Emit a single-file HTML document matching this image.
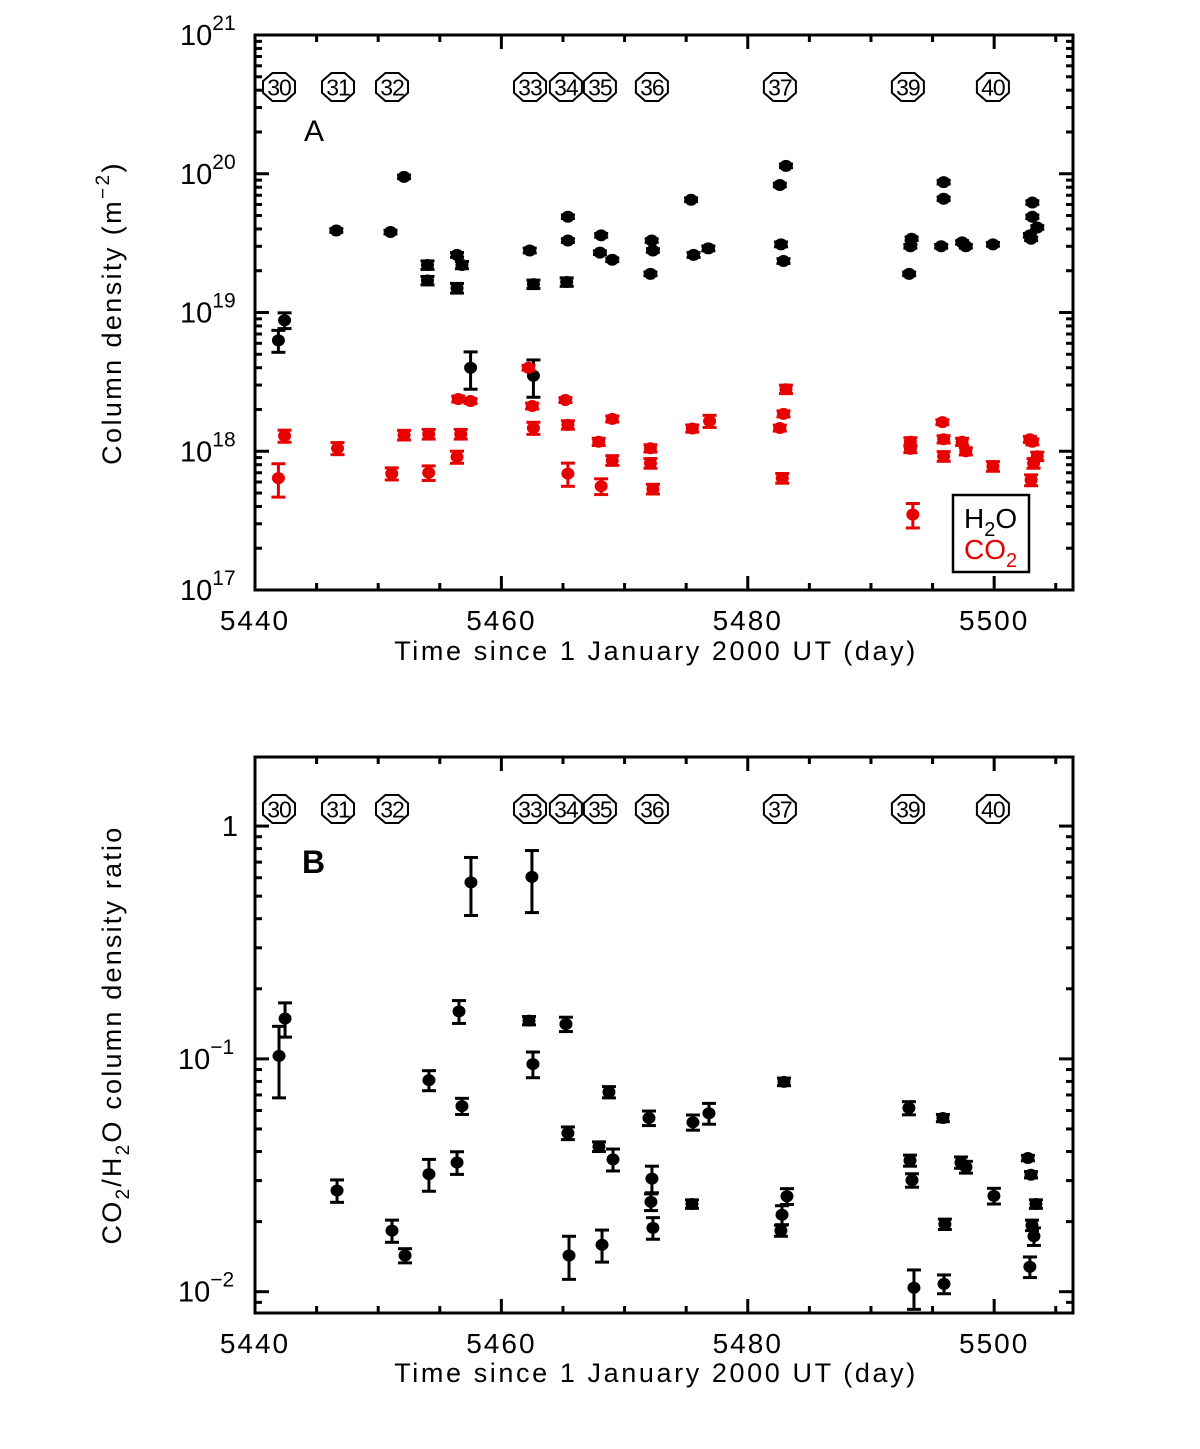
<!DOCTYPE html>
<html><head><meta charset="utf-8"><style>
html,body{margin:0;padding:0;background:#fff;}
svg{display:block;font-family:"Liberation Sans",sans-serif;}
</style></head><body>
<svg id="fig" width="1200" height="1449" viewBox="0 0 1200 1449">
<g id="panelA"></g>
<g id="panelB"></g>
</svg>
<script>
// ---- shared data ----
const apparitionLabels = ["30","31","32","33","34","35","36","37","39","40"];
const apparitionDays = [5441.95,5446.74,5451.12,5462.32,5465.24,5468.0,5472.22,5482.61,5493.0,5499.9];
const xTicks = [5440,5460,5480,5500];

// ---- panel A data ----
const h2oDays = [5441.9,5442.4,5446.6,5451.0,5452.1,5454.0,5454.0,5456.4,5456.8,5456.4,5457.5,5462.3,5462.6,5462.6,5465.4,5465.4,5465.3,5468.1,5468.0,5469.0,5472.2,5472.3,5472.1,5475.4,5475.6,5476.8,5482.6,5483.1,5482.7,5482.9,5493.1,5493.2,5493.3,5495.7,5495.9,5495.9,5497.4,5497.7,5499.9,5502.9,5503.0,5503.1,5503.1,5503.5];
const h2oVals = [6.3e18,8.8e18,3.9e19,3.8e19,9.5e19,2.2e19,1.7e19,2.6e19,2.2e19,1.5e19,4.0e18,2.8e19,1.6e19,3.5e18,4.9e19,3.3e19,1.66e19,3.6e19,2.7e19,2.4e19,3.3e19,2.8e19,1.9e19,6.5e19,2.6e19,2.9e19,8.3e19,1.14e20,3.1e19,2.35e19,1.9e19,3.0e19,3.4e19,3.0e19,6.6e19,8.7e19,3.2e19,3.0e19,3.1e19,3.6e19,3.4e19,4.9e19,6.2e19,4.1e19];
const h2oRelErr = [0.18,0.13,0.03,0.03,0.03,0.07,0.07,0.04,0.06,0.08,0.3,0.04,0.07,0.3,0.03,0.03,0.07,0.03,0.03,0.03,0.03,0.03,0.03,0.03,0.04,0.04,0.03,0.03,0.04,0.04,0.03,0.03,0.03,0.03,0.03,0.03,0.03,0.03,0.03,0.03,0.03,0.03,0.03,0.03];
const co2Days = [5441.9,5442.4,5446.7,5451.1,5452.1,5454.1,5454.1,5456.4,5456.5,5457.5,5456.7,5462.2,5462.5,5462.6,5465.2,5465.4,5465.4,5467.9,5469.0,5469.0,5468.1,5472.1,5472.1,5472.3,5475.5,5476.9,5482.6,5482.9,5483.1,5482.8,5493.2,5493.2,5493.4,5495.8,5495.9,5495.9,5497.4,5497.7,5499.9,5502.9,5503.1,5503.0,5503.2,5503.5];
const co2Vals = [6.4e17,1.29e18,1.05e18,6.9e17,1.31e18,7.0e17,1.33e18,9.1e17,2.38e18,2.3e18,1.33e18,4.0e18,2.12e18,1.47e18,2.34e18,1.55e18,6.9e17,1.17e18,1.71e18,8.6e17,5.6e17,1.05e18,8.2e17,5.35e17,1.46e18,1.65e18,1.47e18,1.86e18,2.8e18,6.4e17,1.17e18,1.04e18,3.5e17,1.62e18,1.22e18,9.2e17,1.17e18,1.0e18,7.8e17,1.22e18,1.17e18,6.2e17,8.2e17,9.2e17];
const co2RelErr = [0.27,0.1,0.1,0.1,0.08,0.12,0.08,0.1,0.05,0.04,0.08,0.04,0.05,0.1,0.04,0.07,0.19,0.06,0.05,0.08,0.13,0.06,0.08,0.08,0.06,0.1,0.05,0.05,0.07,0.08,0.07,0.06,0.2,0.04,0.06,0.08,0.06,0.06,0.08,0.05,0.05,0.09,0.08,0.07];

// ---- panel B data ----
const ratioDays = [5441.95,5442.44,5446.66,5451.12,5452.18,5454.12,5454.12,5456.56,5456.8,5456.4,5457.53,5462.48,5462.24,5462.56,5465.24,5465.4,5465.49,5467.92,5468.73,5469.06,5468.17,5471.98,5472.22,5472.14,5472.3,5475.55,5476.85,5475.47,5482.94,5483.18,5482.78,5482.69,5493.08,5493.17,5493.33,5493.49,5495.84,5496.0,5495.93,5497.31,5497.71,5499.98,5502.74,5502.99,5503.39,5503.07,5503.23,5502.9];
const ratioVals = [0.103,0.149,0.0272,0.0183,0.0143,0.081,0.032,0.160,0.0627,0.0359,0.573,0.605,0.146,0.095,0.141,0.048,0.0143,0.042,0.072,0.037,0.0159,0.0557,0.0306,0.0243,0.0188,0.0534,0.0584,0.0238,0.0797,0.0257,0.0214,0.0183,0.0615,0.0366,0.0301,0.0104,0.0557,0.0195,0.0108,0.0359,0.0343,0.0258,0.0375,0.0318,0.0238,0.0193,0.0173,0.0128];
const ratioErr = [0.035,0.025,0.003,0.002,0.001,0.008,0.005,0.018,0.005,0.004,0.16,0.18,0.006,0.012,0.01,0.003,0.003,0.002,0.004,0.004,0.0025,0.004,0.004,0.002,0.002,0.004,0.006,0.001,0.003,0.002,0.002,0.001,0.004,0.002,0.002,0.002,0.002,0.001,0.001,0.002,0.002,0.002,0.001,0.001,0.001,0.001,0.0015,0.0013];

const NS="http://www.w3.org/2000/svg";
function mk(parent,tag,attrs,txt){const e=document.createElementNS(NS,tag);for(const k in attrs)e.setAttribute(k,attrs[k]);if(txt!==undefined)e.textContent=txt;parent.appendChild(e);return e;}

const L=255,R=1073,X0=5440,X1=5506.4;
function xS(d){return L+(d-X0)/(X1-X0)*(R-L);}

function frame(g,top,bot,yS,logMin,logMax,decLabels){
  mk(g,'rect',{x:L,y:top,width:R-L,height:bot-top,fill:'none',stroke:'#000','stroke-width':3});
  for(let d=5440;d<=5505;d+=5){
    const x=xS(d);const len=(d%20===0)?14:7;
    const t1=mk(g,'line',{x1:x,y1:bot,x2:x,y2:bot-len,stroke:'#000','stroke-width':3});
    
    mk(g,'line',{x1:x,y1:top,x2:x,y2:top+len,stroke:'#000','stroke-width':3});
  }
  xTicks.forEach(v=>{
    const t=mk(g,'text',{x:xS(v),y:bot+40,'text-anchor':'middle','font-size':28,'letter-spacing':2},String(v));
    
    
  });
  for(let e=Math.floor(logMin);e<=Math.ceil(logMax);e++){
    for(let m=1;m<10;m++){
      const lv=e+Math.log10(m);if(lv<logMin-1e-9||lv>logMax+1e-9)continue;
      const y=yS(Math.pow(10,lv));const len=m===1?14:7;
      const t=mk(g,'line',{x1:L,y1:y,x2:L+len,y2:y,stroke:'#000','stroke-width':3});
      
      mk(g,'line',{x1:R,y1:y,x2:R-len,y2:y,stroke:'#000','stroke-width':3});
    }
  }
  decLabels.forEach(dl=>{
    const y=yS(Math.pow(10,dl.e));
    const t=mk(g,'text',{x:dl.x,y:y+10,'font-size':29});
    
    
    if(dl.plain){t.textContent=dl.plain;t.setAttribute('text-anchor','end');t.setAttribute('x',238);}
    else{t.textContent='10';mk(t,'tspan',{dy:-15,'font-size':21},dl.sup);}
  });
}
function circles(g,y){
  apparitionLabels.forEach((lab,i)=>{
    const x=xS(apparitionDays[i]);
    const c=mk(g,'g',{});
    
    
    const r=16.5,pts=[];for(let k=0;k<8;k++){const a=Math.PI/8+k*Math.PI/4;pts.push((x+r*1.05*Math.cos(a)).toFixed(1)+','+(y+r*0.92*Math.sin(a)).toFixed(1));}
    mk(c,'polygon',{points:pts.join(' '),fill:'#fff',stroke:'#000','stroke-width':2});
    mk(c,'text',{x:x,y:y+8.5,'text-anchor':'middle','font-size':23,'letter-spacing':-1},lab);
  });
}
function point(g,x,y,yl,yh,col,name){
  const p=mk(g,'g',{});
  
  
  mk(p,'line',{x1:x,y1:yl,x2:x,y2:yh,stroke:col,'stroke-width':3});
  mk(p,'line',{x1:x-7,y1:yl,x2:x+7,y2:yl,stroke:col,'stroke-width':3});
  mk(p,'line',{x1:x-7,y1:yh,x2:x+7,y2:yh,stroke:col,'stroke-width':3});
  mk(p,'ellipse',{cx:x,cy:y,rx:6.5,ry:6,fill:col});
}

// ---- Panel A ----
(function(){
  const g=document.getElementById('panelA');
  const top=35,bot=590,lmin=17,lmax=21;
  const yS=v=>bot-(Math.log10(v)-lmin)/(lmax-lmin)*(bot-top);
  frame(g,top,bot,yS,lmin,lmax,[{e:21,x:180,sup:'21'},{e:20,x:180,sup:'20'},{e:19,x:180,sup:'19'},{e:18,x:180,sup:'18'},{e:17,x:180,sup:'17'}]);
  circles(g,87);
  const a=mk(g,'text',{x:304,y:141,'font-size':30},'A');
  
  const xt=mk(g,'text',{x:656,y:660,'text-anchor':'middle','font-size':27,'letter-spacing':2.6},'Time since 1 January 2000 UT (day)');
  
  const yt=mk(g,'text',{x:0,y:0,'text-anchor':'middle','font-size':27,'letter-spacing':2.4,transform:'translate(121,313) rotate(-90)'},'Column density (m');
  mk(yt,'tspan',{dy:-12,'font-size':19},'−2');mk(yt,'tspan',{dy:12},')');
  
  h2oDays.forEach((d,i)=>{const v=h2oVals[i],e=v*h2oRelErr[i];point(g,xS(d),yS(v),yS(v-e),yS(v+e),'#000','h2o-point');});
  co2Days.forEach((d,i)=>{const v=co2Vals[i],e=v*co2RelErr[i];point(g,xS(d),yS(v),yS(v-e),yS(v+e),'#e60000','co2-point');});
  const lg=mk(g,'g',{});
  
  mk(lg,'rect',{x:953,y:495,width:76,height:77,fill:'#fff',stroke:'#000','stroke-width':2.5});
  const t1=mk(lg,'text',{x:964,y:528,'font-size':28},'H');mk(t1,'tspan',{dy:8,'font-size':20},'2');mk(t1,'tspan',{dy:-8},'O');
  const t2=mk(lg,'text',{x:964,y:559,'font-size':28,fill:'#e60000'},'CO');mk(t2,'tspan',{dy:8,'font-size':20},'2');
})();

// ---- Panel B ----
(function(){
  const g=document.getElementById('panelB');
  const top=757,bot=1313,lmin=Math.log10(0.0081),lmax=Math.log10(1.98);
  const yS=v=>bot-(Math.log10(v)-lmin)/(lmax-lmin)*(bot-top);
  frame(g,top,bot,yS,lmin,lmax,[{e:0,plain:'1'},{e:-1,x:178,sup:'−1'},{e:-2,x:178,sup:'−2'}]);
  circles(g,809);
  const b=mk(g,'text',{x:302,y:873,'font-size':32,'font-weight':'bold'},'B');
  
  const xt=mk(g,'text',{x:656,y:1382,'text-anchor':'middle','font-size':27,'letter-spacing':2.6},'Time since 1 January 2000 UT (day)');
  
  const yt=mk(g,'text',{x:0,y:0,'text-anchor':'middle','font-size':27,'letter-spacing':2.2,transform:'translate(121,1035) rotate(-90)'},'CO');
  mk(yt,'tspan',{dy:8,'font-size':19},'2');mk(yt,'tspan',{dy:-8},'/H');mk(yt,'tspan',{dy:8,'font-size':19},'2');mk(yt,'tspan',{dy:-8},'O column density ratio');
  
  ratioDays.forEach((d,i)=>{const v=ratioVals[i],e=ratioErr[i];point(g,xS(d),yS(v),yS(Math.max(v-e,1e-4)),yS(v+e),'#000','ratio-point');});
})();
</script>
</body></html>
